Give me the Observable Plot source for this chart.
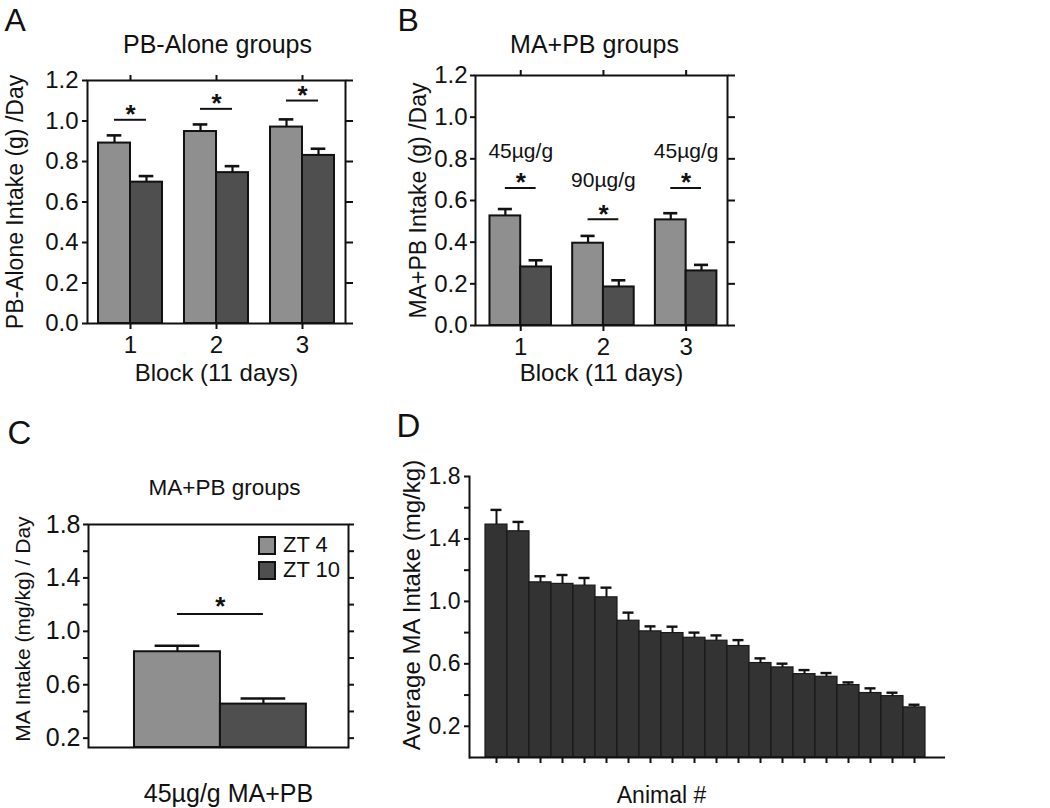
<!DOCTYPE html>
<html>
<head>
<meta charset="utf-8">
<script src="https://cdn.jsdelivr.net/npm/d3@7"></script>
<script src="https://cdn.jsdelivr.net/npm/@observablehq/plot@0.6"></script>
<style>
  html, body { margin: 0; padding: 0; background: #fff; }
  #root { position: relative; width: 1050px; height: 808px; overflow: hidden; background: #fff;
          font-family: 'Liberation Sans', Arial, Helvetica, sans-serif; color: #111; }
  .legend-item { position: absolute; display: flex; align-items: center; font-size: 22px; line-height: 1; }
  .legend-swatch { width: 14px; height: 15px; border: 2px solid #111; margin-right: 7px; }
</style>
</head>
<body>
<div id="root"></div>
<script>
// ---------------- data ----------------
const blocks = [1, 2, 3];
const groups = ["ZT 4", "ZT 10"];
const groupColors = ["#8f8f8f", "#4f4f4f"];

// Panel A: PB-Alone groups
const pbAloneZT4 = [0.891, 0.948, 0.970];
const pbAloneZT4Err = [0.038, 0.035, 0.038];
const pbAloneZT10 = [0.698, 0.745, 0.830];
const pbAloneZT10Err = [0.030, 0.032, 0.033];
const pbAloneSig = [1.006, 1.060, 1.101];
const yTicksA = [0, 0.2, 0.4, 0.6, 0.8, 1.0, 1.2];

// Panel B: MA+PB groups
const maPbZT4 = [0.526, 0.395, 0.507];
const maPbZT4Err = [0.033, 0.035, 0.032];
const maPbZT10 = [0.281, 0.185, 0.262];
const maPbZT10Err = [0.032, 0.032, 0.029];
const maPbSig = [0.66, 0.51, 0.66];
const maPbDose = ["45µg/g", "90µg/g", "45µg/g"];
const maPbDoseY = [0.835, 0.695, 0.835];

// Panel C: MA intake by ZT
const maIntakeMean = [0.847, 0.455];
const maIntakeErr = [0.045, 0.042];
const maIntakeSig = 1.13;
const yDomainC = [0.13, 1.8];
const yTicksC = [0.2, 0.4, 0.6, 0.8, 1.0, 1.2, 1.4, 1.6, 1.8];
const yLabelsC = [0.2, 0.6, 1.0, 1.4, 1.8];

// Panel D: average MA intake per animal
const animalMeans = [1.492, 1.449, 1.122, 1.112, 1.101, 1.026, 0.876, 0.808, 0.797, 0.767,
                     0.748, 0.714, 0.605, 0.577, 0.534, 0.517, 0.464, 0.413, 0.393, 0.321];
const animalErr = [0.094, 0.060, 0.039, 0.057, 0.049, 0.062, 0.052, 0.032, 0.041, 0.033,
                   0.034, 0.038, 0.030, 0.024, 0.026, 0.024, 0.017, 0.030, 0.022, 0.017];
const animalIds = animalMeans.map((_, i) => String(i + 1));
const yTicksD = [0.2, 0.4, 0.6, 0.8, 1.0, 1.2, 1.4, 1.6, 1.8];
const yLabelsD = [0.2, 0.6, 1.0, 1.4, 1.8];

// ---------------- styling ----------------
const FONT = "'Liberation Sans', Arial, Helvetica, sans-serif";
const INK = "#111";
const root = document.getElementById("root");
function place(node, left, top) {
  node.style.position = "absolute";
  node.style.left = left + "px";
  node.style.top = top + "px";
  root.appendChild(node);
}
const styleFor = size => ({fontFamily: FONT, fontSize: size + "px", color: INK, background: "transparent", overflow: "visible"});

function groupedPanel(c) {
  const rows = blocks.flatMap((b, i) => [
    {block: b, group: groups[0], mean: c.m4[i], err: c.e4[i], side: -1},
    {block: b, group: groups[1], mean: c.m10[i], err: c.e10[i], side: 0}
  ]);
  const sig = blocks.map((b, i) => ({block: b, y: c.sig[i]}));
  const bw = c.barW;
  const x1 = d => d.block + d.side * bw;
  const cx = d => x1(d) + bw / 2;
  const top = d => d.mean + d.err;
  const marks = [
    Plot.rectY(rows, {x1, x2: d => x1(d) + bw, y1: 0, y2: "mean", fill: "group", stroke: INK, strokeWidth: 2}),
    Plot.ruleX(rows, {x: cx, y1: "mean", y2: top, stroke: INK, strokeWidth: 2.2}),
    Plot.ruleY(rows, {y: top, x1: d => cx(d) - c.cap, x2: d => cx(d) + c.cap, stroke: INK, strokeWidth: 2.6}),
    Plot.ruleY(sig, {y: "y", x1: d => d.block - c.sigHalf, x2: d => d.block + c.sigHalf, stroke: INK, strokeWidth: 2}),
    Plot.text(sig, {x: "block", y: "y", text: () => "*", dy: -5, fontSize: 26, fontWeight: "bold", fill: INK}),
    Plot.frame({stroke: INK, strokeWidth: 2}),
    Plot.axisY(yTicksA, {anchor: "left", tickSize: 5, tickPadding: c.tickPad, tickFormat: d => d.toFixed(1), label: null, fontSize: 24, strokeWidth: 2}),
    Plot.axisY(yTicksA, {anchor: "right", tickSize: 7, tickFormat: () => "", label: null, strokeWidth: 2}),
    Plot.axisX(blocks, {anchor: "top", tickSize: 6, tickFormat: () => "", label: null, strokeWidth: 2}),
    Plot.axisX(blocks, {anchor: "bottom", tickSize: 6, tickPadding: 6, tickFormat: d => String(d), label: null, fontSize: 24, strokeWidth: 2}),
    Plot.text([c.title], {frameAnchor: "top", lineAnchor: "middle", dx: c.titleDx, dy: c.titleDy, fontSize: c.titleSize, fill: INK}),
    Plot.text([c.letter], {frameAnchor: "top-left", dx: c.letterDx, dy: c.letterDy, fontSize: 32, fill: INK}),
    Plot.text([c.yLabel], {frameAnchor: "left", rotate: -90, textAnchor: "middle", lineAnchor: "middle", dx: c.yLabelDx, fontSize: 23, fill: INK}),
    Plot.text(["Block (11 days)"], {frameAnchor: "bottom", lineAnchor: "middle", dy: c.xLabelDy, fontSize: 24, fill: INK})
  ];
  if (c.dose) {
    const doseRows = blocks.map((b, i) => ({block: b, y: c.doseY[i], t: c.dose[i]}));
    marks.push(Plot.text(doseRows, {x: "block", y: "y", text: "t", fontSize: 21, fill: INK}));
  }
  return Plot.plot({
    width: c.width, height: c.height,
    marginLeft: c.ml, marginRight: c.mr, marginTop: c.mt, marginBottom: c.mb,
    x: {domain: c.xDomain},
    y: {domain: [0, 1.2]},
    color: {domain: groups, range: groupColors},
    style: styleFor(24),
    marks
  });
}

// Panel A
place(groupedPanel({
  m4: pbAloneZT4, e4: pbAloneZT4Err, m10: pbAloneZT10, e10: pbAloneZT10Err, sig: pbAloneSig,
  width: 380, height: 400, ml: 87, mr: 35, mt: 80, mb: 77,
  xDomain: [0.5, 3.5], barW: 0.372, cap: 0.085, sigHalf: 0.186, tickPad: 4,
  title: "PB-Alone groups", titleDx: 1, titleDy: -36, titleSize: 25,
  letter: "A", letterDx: -83, letterDy: -72,
  yLabel: "PB-Alone Intake (g) /Day", yLabelDx: -72, xLabelDy: 50
}), 0, 0);

// Panel B
place(groupedPanel({
  m4: maPbZT4, e4: maPbZT4Err, m10: maPbZT10, e10: maPbZT10Err, sig: maPbSig,
  dose: maPbDose, doseY: maPbDoseY,
  width: 380, height: 400, ml: 85, mr: 43, mt: 75, mb: 75,
  xDomain: [0.453, 3.5], barW: 0.372, cap: 0.085, sigHalf: 0.186, tickPad: 3,
  title: "MA+PB groups", titleDx: -7, titleDy: -31, titleSize: 25,
  letter: "B", letterDx: -78, letterDy: -67,
  yLabel: "MA+PB Intake (g) /Day", yLabelDx: -57, xLabelDy: 48
}), 390, 0);

// Panel C
(function () {
  const rows = groups.map((g, i) => ({group: g, pos: i + 1, mean: maIntakeMean[i], err: maIntakeErr[i]}));
  const top = d => d.mean + d.err;
  const mid = (rows[0].pos + rows[1].pos) / 2;
  const fmt = d => yLabelsC.includes(d) ? d.toFixed(1) : "";
  const chart = Plot.plot({
    width: 380, height: 408,
    marginLeft: 88, marginRight: 32, marginTop: 124, marginBottom: 61,
    x: {domain: [-0.035, 2.99], axis: null},
    y: {domain: yDomainC},
    color: {domain: groups, range: groupColors},
    style: styleFor(25),
    marks: [
      Plot.rectY(rows, {x1: d => d.pos - 0.5, x2: d => d.pos + 0.5, y1: yDomainC[0], y2: "mean", fill: "group", stroke: INK, strokeWidth: 2}),
      Plot.ruleX(rows, {x: "pos", y1: "mean", y2: top, stroke: INK, strokeWidth: 2.2}),
      Plot.ruleY(rows, {y: top, x1: d => d.pos - 0.26, x2: d => d.pos + 0.26, stroke: INK, strokeWidth: 2.6}),
      Plot.ruleY([maIntakeSig], {y: d => d, x1: rows[0].pos, x2: rows[1].pos, stroke: INK, strokeWidth: 2}),
      Plot.text([maIntakeSig], {x: mid, y: d => d, text: () => "*", dy: -7, fontSize: 26, fontWeight: "bold", fill: INK}),
      Plot.frame({stroke: INK, strokeWidth: 2}),
      Plot.axisY(yTicksC, {anchor: "left", tickSize: 5, tickPadding: 3, tickFormat: fmt, label: null, fontSize: 25, strokeWidth: 2}),
      Plot.axisY(yTicksC, {anchor: "right", tickSize: 5, tickFormat: () => "", label: null, strokeWidth: 2}),
      Plot.text(["MA+PB groups"], {frameAnchor: "top", lineAnchor: "middle", dx: 6, dy: -37, fontSize: 22.5, fill: INK}),
      Plot.text(["C"], {frameAnchor: "top-left", dx: -81, dy: -104, fontSize: 33, fill: INK}),
      Plot.text(["MA Intake (mg/kg) / Day"], {frameAnchor: "left", rotate: -90, textAnchor: "middle", lineAnchor: "middle", dx: -65, dy: -7, fontSize: 21, fill: INK}),
      Plot.text(["45µg/g MA+PB"], {frameAnchor: "bottom", lineAnchor: "middle", dx: 10, dy: 46, fontSize: 25, fill: INK})
    ]
  });
  place(chart, 0, 400);
  // legend
  groups.forEach((g, i) => {
    const item = document.createElement("div");
    item.className = "legend-item";
    const sw = document.createElement("span");
    sw.className = "legend-swatch";
    sw.style.background = groupColors[i];
    const lab = document.createElement("span");
    lab.textContent = g;
    item.appendChild(sw);
    item.appendChild(lab);
    place(item, 258, 534 + i * 25);
  });
})();

// Panel D
(function () {
  const rows = animalIds.map((a, i) => ({animal: a, mean: animalMeans[i], err: animalErr[i]}));
  const top = d => d.mean + d.err;
  const fmt = d => yLabelsD.includes(d) ? d.toFixed(1) : "";
  const chart = Plot.plot({
    width: 660, height: 408,
    marginLeft: 79, marginRight: 105, marginTop: 76, marginBottom: 51,
    x: {domain: animalIds, padding: 0, insetLeft: 10, insetRight: 15},
    y: {domain: [0, 1.8]},
    style: styleFor(23),
    marks: [
      Plot.barY(rows, {x: "animal", y: "mean", fill: "#333", stroke: "#1a1a1a", strokeWidth: 1.2}),
      Plot.ruleX(rows, {x: "animal", y1: "mean", y2: top, stroke: INK, strokeWidth: 2}),
      Plot.tickY(rows, {x: "animal", y: top, insetLeft: 5.5, insetRight: 5.5, stroke: INK, strokeWidth: 2.4}),
      Plot.ruleY([0], {stroke: INK, strokeWidth: 2}),
      Plot.frame({anchor: "left", stroke: INK, strokeWidth: 2}),
      Plot.axisY(yTicksD, {anchor: "left", tickSize: 5, tickPadding: 4, tickFormat: fmt, label: null, fontSize: 23, strokeWidth: 2}),
      Plot.axisX(animalIds, {anchor: "bottom", tickSize: 6, tickFormat: () => "", label: null, strokeWidth: 2}),
      Plot.text(["D"], {frameAnchor: "top-left", dx: -73, dy: -63, fontSize: 33, fill: INK}),
      Plot.text(["Average MA Intake (mg/kg)"], {frameAnchor: "left", rotate: -90, textAnchor: "middle", lineAnchor: "middle", dx: -57, dy: -12, fontSize: 24, fill: INK}),
      Plot.text(["Animal #"], {frameAnchor: "bottom", lineAnchor: "middle", dx: -46, dy: 38, fontSize: 23, fill: INK})
    ]
  });
  place(chart, 390, 400);
})();
</script>
</body>
</html>
